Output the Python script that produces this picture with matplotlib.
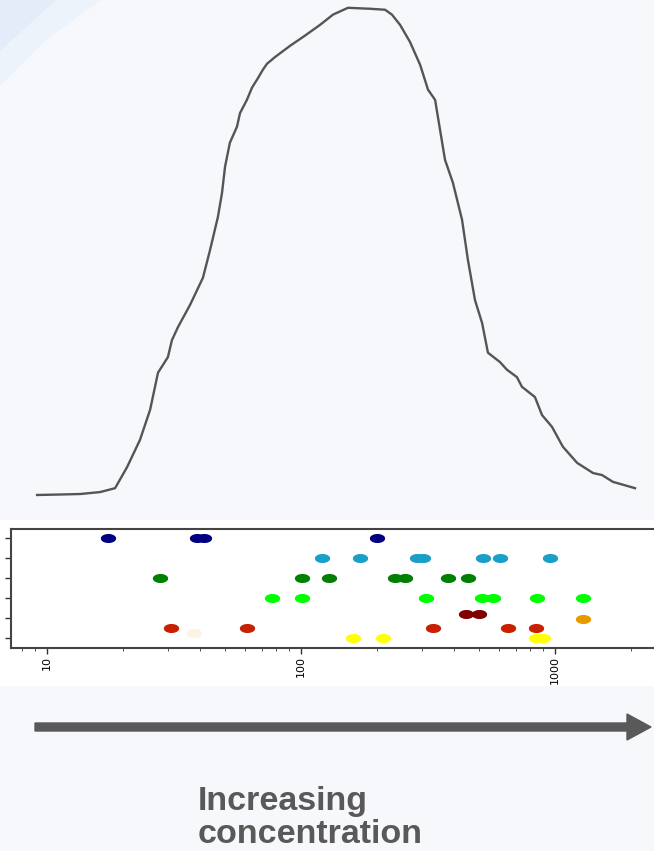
import matplotlib
matplotlib.use('Agg')
import matplotlib.pyplot as plt
import numpy as np
from matplotlib.path import Path
from matplotlib.patches import Rectangle, Polygon, FancyArrow

# density curve (log10 concentration, relative density)
curve_logc = [0.961, 1.051, 1.130, 1.209, 1.268, 1.315, 1.366, 1.406, 1.437, 1.476,
              1.492, 1.516, 1.563, 1.614, 1.642, 1.673, 1.689, 1.701, 1.720, 1.748,
              1.760, 1.787, 1.807, 1.831, 1.850, 1.866, 1.898, 1.957, 2.016, 2.075,
              2.126, 2.185, 2.272, 2.331, 2.358, 2.390, 2.429, 2.469, 2.500, 2.528,
              2.539, 2.567, 2.598, 2.634, 2.657, 2.685, 2.713, 2.736, 2.783, 2.811,
              2.850, 2.870, 2.921, 2.949, 2.988, 3.031, 3.087, 3.150, 3.185, 3.228, 3.315]
curve_dens = [0, 0.1, 0.2, 0.6, 1.4, 5.7, 11.3, 17.5, 25.1, 28.3,
              31.8, 34.5, 39.0, 44.6, 50.3, 57.1, 62.0, 67.4, 72.3, 75.6,
              78.4, 81.1, 83.6, 85.6, 87.3, 88.5, 89.9, 92.2, 94.3, 96.5,
              98.6, 100, 99.8, 99.6, 98.6, 96.5, 93.0, 88.3, 83.2, 81.1,
              77.6, 68.8, 64.1, 56.5, 48.3, 40.0, 35.3, 29.2, 27.3, 25.7,
              24.2, 22.2, 20.1, 16.4, 14.0, 9.9, 6.6, 4.5, 4.1, 2.7, 1.4]

# strip of measured concentrations, one row per group
groups = [
    ('#000080', 5,    [17.4, 39, 41.5, 199]),
    ('#1aa0c8', 4,    [121, 171, 286, 302, 521, 607, 955]),
    ('#008000', 3,    [27.9, 101, 129, 234, 257, 379, 454]),
    ('#00ff00', 2,    [76.9, 101, 311, 516, 570, 849, 1289]),
    ('#800000', 1.2,  [446, 502]),
    ('#e69a00', 0.95, [1289]),
    ('#c82000', 0.5,  [30.8, 61.3, 331, 653, 842]),
    ('#fbf3e4', 0.25, [37.9]),
    ('#ffff00', 0,    [160, 210, 842, 897]),
]

W, H = 654, 851
fig = plt.figure(figsize=(W / 100, H / 100), dpi=100)
fig.patch.set_facecolor('#f6f8fb')

# decorative corner swoosh and white plot background
fig.patches.append(Polygon([(0, 1), (100 / W, 1), (45 / W, 1 - 40 / H), (0, 1 - 85 / H)],
                           closed=True, transform=fig.transFigure, color='#edf3fb', zorder=-2))
fig.patches.append(Polygon([(0, 1), (55 / W, 1), (0, 1 - 50 / H)],
                           closed=True, transform=fig.transFigure, color='#e3ecf8', zorder=-2))
fig.patches.append(Rectangle((0, 1 - 685 / H), 1, 165 / H, transform=fig.transFigure,
                             color='white', zorder=-2))

xlim = (10 ** (1 + (11 - 47) / 254), 10 ** (1 + (654 - 47) / 254))

# top: density curve
ax1 = fig.add_axes([11 / W, 1 - 510 / H, 643 / W, 510 / H])
ax1.plot(10 ** np.array(curve_logc), curve_dens, color='#555555', lw=1.7)
ax1.set_xscale('log')
ax1.set_xlim(xlim)
ax1.set_ylim(-3.08, 101.6)
ax1.axis('off')

# bottom: strip plot
t = np.linspace(0, 2 * np.pi, 40)
ellipse = Path(np.column_stack([np.cos(t), 0.55 * np.sin(t)]))

ax2 = fig.add_axes([11 / W, 1 - 648 / H, 643 / W, 119 / H])
ax2.set_facecolor('white')
for color, row, vals in groups:
    ax2.plot(vals, [row] * len(vals), ls='none', marker=ellipse, ms=10,
             color=color, mec=color)
ax2.set_xscale('log')
ax2.set_xlim(xlim)
ax2.set_ylim(-0.5, 5.45)
ax2.set_yticks([0, 1, 2, 3, 4, 5])
ax2.set_yticklabels([])
ax2.set_xticks([10, 100, 1000])
ax2.set_xticklabels(['10', '100', '1000'], rotation=90, fontsize=8)
ax2.tick_params(direction='out', length=4, width=1, color='#333333', pad=2)
ax2.tick_params(which='minor', length=2.5, color='#333333')
ax2.spines['right'].set_visible(False)
for s in ['left', 'top', 'bottom']:
    ax2.spines[s].set_color('#444444')
    ax2.spines[s].set_linewidth(1.5)

# arrow and caption
fig.patches.append(FancyArrow(35 / W, 1 - 727 / H, 592 / W, 0, width=8 / H,
                              head_width=26 / H, head_length=24 / W,
                              length_includes_head=False, transform=fig.transFigure,
                              color='#595959', zorder=3))
fig.text(198 / W, 1 - 818 / H, 'Increasing\nconcentration', ha='left', va='center',
         fontsize=24.5, fontweight='bold', color='#595959', family='Liberation Sans',
         linespacing=1.12)

fig.savefig('out.png', dpi=100, facecolor=fig.get_facecolor())
